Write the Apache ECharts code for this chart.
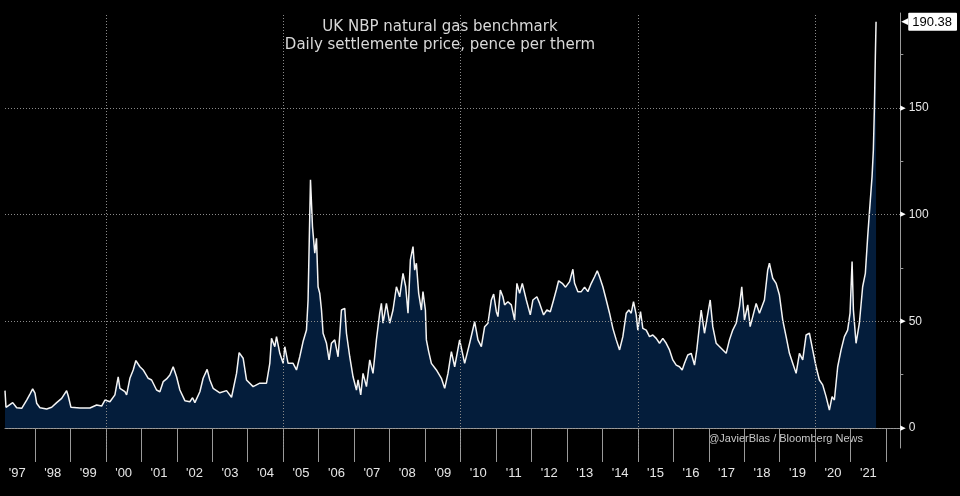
<!DOCTYPE html>
<html>
<head>
<meta charset="utf-8">
<script src="https://cdn.jsdelivr.net/npm/echarts@6/dist/echarts.min.js"></script>
<style>
html,body{margin:0;padding:0;background:#000;}
#chart{width:960px;height:496px;}
</style>
</head>
<body>
<div id="chart"></div>
<script>
// ---- data (decimal year, pence per therm) ----
var dates = [
  1997.155,1997.183,1997.372,1997.485,1997.626,1997.766,1997.859,1997.935,
  1998.000,1998.048,1998.141,1998.330,1998.471,1998.612,1998.753,1998.893,1998.939,
  1999.015,1999.268,1999.550,1999.739,1999.880,1999.973,
  2000.114,2000.254,2000.347,2000.395,2000.536,2000.584,2000.677,2000.770,2000.846,2000.959,
  2001.052,2001.193,2001.289,2001.429,2001.522,2001.615,2001.711,2001.804,2001.897,2001.993,
  2002.086,2002.227,2002.368,2002.444,2002.509,2002.650,2002.742,2002.855,2002.931,
  2003.024,2003.213,2003.402,2003.543,2003.684,2003.757,2003.870,2003.965,
  2004.151,2004.340,2004.529,2004.622,2004.670,2004.763,2004.811,2004.904,2004.997,
  2005.045,2005.137,2005.278,2005.374,2005.467,2005.560,2005.656,2005.701,2005.769,2005.825,2005.890,2005.938,2005.983,
  2006.031,2006.079,2006.124,2006.220,2006.293,2006.360,2006.453,2006.546,2006.594,2006.642,2006.735,2006.783,2006.876,2006.969,
  2007.065,2007.110,2007.186,2007.251,2007.347,2007.440,2007.532,2007.628,2007.721,2007.769,2007.814,2007.910,
  2008.003,2008.096,2008.192,2008.285,2008.378,2008.454,2008.519,2008.586,2008.660,2008.707,2008.755,2008.820,2008.896,2008.941,
  2009.009,2009.037,2009.102,2009.178,2009.319,2009.460,2009.553,2009.646,2009.742,2009.835,2009.975,
  2010.116,2010.257,2010.398,2010.491,2010.587,2010.680,2010.773,2010.869,2010.934,
  2011.010,2011.055,2011.122,2011.195,2011.243,2011.336,2011.432,2011.525,2011.590,2011.666,2011.742,2011.855,2011.967,
  2012.041,2012.153,2012.230,2012.342,2012.435,2012.531,2012.624,2012.700,2012.765,2012.869,2012.962,
  2013.075,2013.168,2013.216,2013.309,2013.405,2013.498,2013.591,2013.687,2013.779,2013.856,2013.920,
  2014.013,2014.109,2014.202,2014.295,2014.391,2014.484,2014.577,2014.673,2014.746,2014.813,2014.878,2014.954,2014.999,
  2015.075,2015.140,2015.236,2015.329,2015.422,2015.518,2015.611,2015.704,2015.800,2015.893,2015.986,
  2016.082,2016.174,2016.250,2016.315,2016.408,2016.504,2016.597,2016.662,2016.718,2016.786,2016.879,
  2017.040,2017.113,2017.209,2017.349,2017.490,2017.583,2017.676,2017.772,2017.865,2017.930,
  2018.006,2018.099,2018.167,2018.240,2018.336,2018.429,2018.569,2018.662,2018.710,2018.803,2018.899,2018.992,
  2019.085,2019.181,2019.274,2019.367,2019.463,2019.556,2019.649,2019.745,2019.838,2019.930,
  2020.026,2020.119,2020.212,2020.308,2020.401,2020.477,2020.542,2020.635,2020.731,2020.824,2020.916,2020.984,
  2021.041,2021.078,2021.153,2021.246,2021.339,2021.415,2021.481,2021.528,2021.604,2021.641,2021.669,2021.697,2021.717
];
var prices = [
  17.5,9.7,11.9,9.5,9.2,13.1,15.9,18.3,
  16.3,11.6,9.5,8.9,9.7,11.9,13.9,17.5,15,
  9.7,9.4,9.4,10.8,10.3,13.1,
  12.3,15.5,24,18.6,17,15.5,23.3,27.2,31.6,28.7,
  27.2,23.3,22.5,17.8,17,21.7,23,24.8,28.7,24,
  17.8,12.8,12.3,14.2,11.9,17,23.3,27.5,22.5,
  18.6,16.5,17.5,14.4,25.6,35.3,32.7,22.5,
  19.4,21,21,30.3,42,38.1,42.8,35,30.3,
  38.1,30.3,30.3,27.2,33.4,40.5,45.9,60,116.3,94.4,81.9,88.9,66.2,
  63.1,55.3,44.4,39.7,31.9,39.7,41.3,33.4,43.6,55.3,56.1,44.4,33.4,24,
  17.8,22.5,15.5,25.6,19.4,31.9,25.6,41.3,53.8,58.4,49.1,58.4,
  49.1,55.3,66.2,61.5,72.5,66.2,53.8,78.8,85,74,77.2,63.1,55.3,63.9,
  55.3,41.3,35.8,30.3,27.2,23.3,18.6,25.6,35.8,28.7,41.3,
  30.3,39.7,49.8,41.3,38.1,47.5,49.1,60,62.8,
  54.5,52.2,64.7,61.5,57.7,59.2,57.7,50.6,67.8,63.1,67.8,60,53,
  60,61.5,58.4,53,55.3,54.5,60,64.7,69,67.8,66,
  68.6,74.4,67.8,63.9,63.9,66,63.9,67.8,70.9,73.7,70.9,
  66.2,60,53.8,46.7,41.3,36.6,42.8,53.8,55.3,53.8,59.2,53,45.9,
  54.5,46.7,45.9,42.8,43.6,42,39.7,42,39.7,36.6,31.9,
  29.5,28.7,27.2,30.3,34.2,35,29.5,36.6,45.1,55.3,44.4,
  60,47.5,39.7,37.4,35,41.3,45.9,49.1,56.9,66.2,
  50.6,57.7,47.5,52.2,58.4,53.8,60,74,77.2,70.2,67.8,62.3,
  50.6,42.8,35,30.3,25.6,35,31.9,43.6,44.4,36.6,
  28.7,22.5,20.2,14.7,8.4,14.7,13.1,28.7,36.6,42.8,45.9,53.8,
  78,55.3,39.7,49.1,66.2,72.5,89.7,100.6,117.8,130.3,149,174,190.38
];
var yearTicks = [1998,1999,2000,2001,2002,2003,2004,2005,2006,2007,2008,2009,2010,2011,2012,2013,2014,2015,2016,2017,2018,2019,2020,2021,2022];
var yearLabels = [1997.5,1998.5,1999.5,2000.5,2001.5,2002.5,2003.5,2004.5,2005.5,2006.5,2007.5,2008.5,2009.5,2010.5,2011.5,2012.5,2013.5,2014.5,2015.5,2016.5,2017.5,2018.5,2019.5,2020.5,2021.5];
var gridYears = [2000,2005,2010,2015,2020];
var yLabelValues = [0,50,100,150];
var yMinorTicks = [25,75,125,175];
var gridValues = [0,50,100,150];
var lastValue = [190.38];

var seriesData = dates.map(function(d,i){ return [d, prices[i]]; });
var markData = gridYears.map(function(y){ return {xAxis:y}; })
  .concat(gridValues.map(function(v){ return {yAxis:v}; }));

var X_MIN = 1997.155, X_MAX = 2022.401, Y_MIN = -9.375, Y_MAX = 194.5;
var axisGray = '#9a9a9a';

var chart = echarts.init(document.getElementById('chart'), null, {renderer:'canvas'});
chart.setOption({
  backgroundColor: '#000',
  animation: false,
  title: {
    text: 'UK NBP natural gas benchmark\nDaily settlemente price, pence per therm',
    left: 435, top: 13, textAlign: 'center',
    textStyle: {fontFamily:'DejaVu Sans', fontSize:15, fontWeight:'normal', color:'#d8d8d8', lineHeight:18}
  },
  grid: {left:5, right:59, top:13, bottom:48, containLabel:false},
  xAxis: {
    type:'value', min:X_MIN, max:X_MAX,
    axisLine:{show:true, lineStyle:{color:axisGray, width:1}},
    axisTick:{show:true, customValues:yearTicks, length:34, lineStyle:{color:axisGray, width:1}},
    axisLabel:{show:true, customValues:yearLabels, margin:19,
      fontFamily:'Liberation Sans', fontSize:13, color:'#e6e6e6',
      formatter:function(v){ return "'" + String(Math.floor(v)).slice(2); }},
    splitLine:{show:false}
  },
  yAxis: [{
    type:'value', position:'right', min:Y_MIN, max:Y_MAX,
    axisLine:{show:true, lineStyle:{color:axisGray, width:1}},
    axisTick:{show:true, customValues:yMinorTicks, length:3, lineStyle:{color:axisGray}},
    axisLabel:{show:true, customValues:yLabelValues, margin:0,
      formatter:function(v){ return '{p|\u25B6}{v|' + v + '}'; },
      rich:{
        p:{fontFamily:'DejaVu Sans', fontSize:7, color:'#ffffff', padding:[0,3,0,0]},
        v:{fontFamily:'Liberation Sans', fontSize:12, color:'#e6e6e6'}
      }},
    splitLine:{show:false}
  },{
    type:'value', position:'right', min:Y_MIN, max:Y_MAX,
    axisLine:{show:false}, axisTick:{show:false}, splitLine:{show:false},
    axisLabel:{show:true, customValues:lastValue, margin:1,
      formatter:function(v){ return '{t|\u25C0}{b|' + v.toFixed(2) + '}'; },
      rich:{
        t:{fontFamily:'DejaVu Sans', fontSize:9, color:'#ffffff'},
        b:{fontFamily:'Liberation Sans', fontSize:13, color:'#000', backgroundColor:'#ffffff', padding:[3,5,2,4], borderRadius:1}
      }}
  }],
  series: [{
    type:'line', data:seriesData, xAxisIndex:0, yAxisIndex:0,
    showSymbol:false, symbol:'none', smooth:false,
    lineStyle:{color:'#f4f4f4', width:1.5},
    areaStyle:{color:'#041d3b', opacity:1},
    markLine:{
      silent:true, symbol:['none','none'], label:{show:false},
      lineStyle:{color:'#8a8a8a', type:[1,2], width:1},
      emphasis:{disabled:true},
      data:markData
    }
  }],
  graphic: [{
    type:'text', right:97, top:433,
    style:{text:'@JavierBlas / Bloomberg News', fontFamily:'Liberation Sans', fontSize:11, fill:'#c8c8c8'}
  }]
});
</script>
</body>
</html>
